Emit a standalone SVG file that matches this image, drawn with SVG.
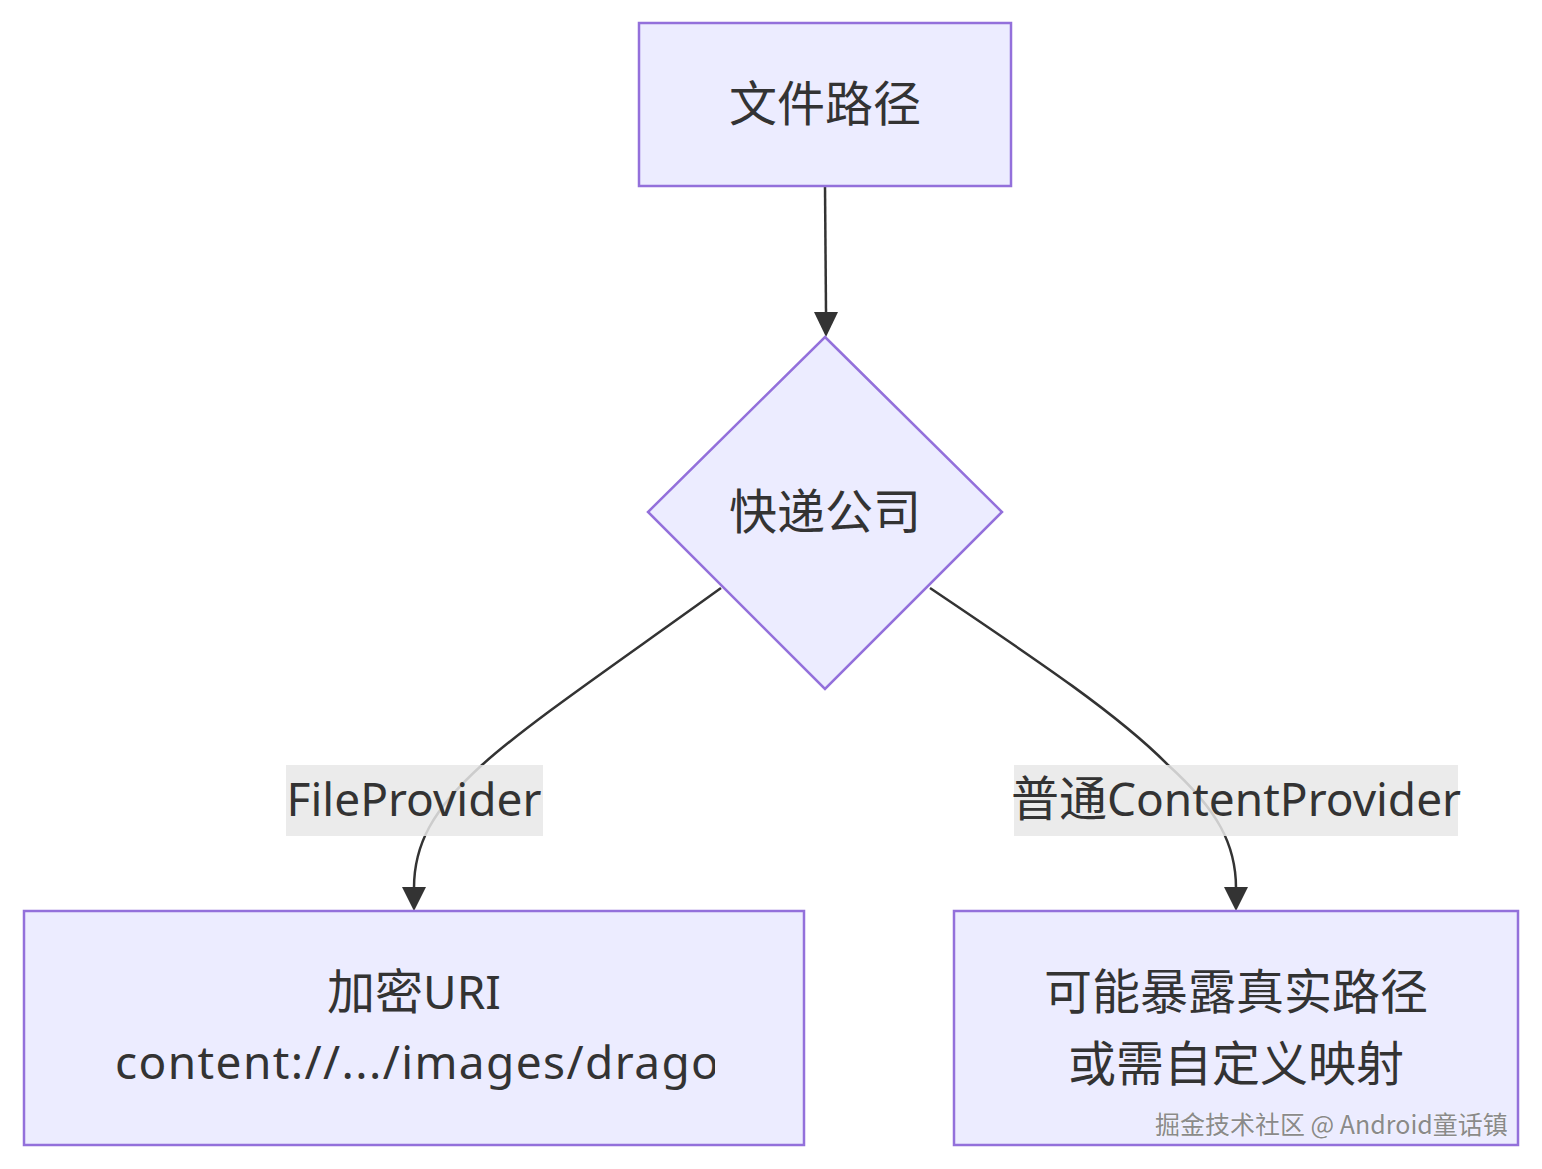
<svg xmlns="http://www.w3.org/2000/svg" width="1542" height="1169" viewBox="0 0 1542 1169">
<defs>
<style>
.node{fill:#ECECFF;stroke:#9370DB;stroke-width:2.5}
.lbl{font-family:"Noto Sans","Noto Sans CJK SC",sans-serif;font-size:46px;fill:#333;text-anchor:middle}
.cjk{font-size:48px}
.edge{fill:none;stroke:#333;stroke-width:2.5}
.elbg{fill:#e8e8e8;fill-opacity:0.85}
.wm{font-family:"Noto Sans CJK SC","Noto Sans",sans-serif;font-size:25px;fill:#8a8a8a;stroke:#fff;stroke-width:0.6;paint-order:stroke}
</style>
<clipPath id="clipA"><rect x="24" y="911" width="691" height="234"/></clipPath>
</defs>
<rect width="1542" height="1169" fill="#fff"/>
<g id="connectors">
<path class="edge" d="M825,186 L826,312" />
<path d="M814,312 L838,312 L826,337 z" fill="#333"/>
<path class="edge" d="M721,588 C610,668 530,722 482,765 C432,810 414,845 414,888"/>
<path d="M402,887 L426,887 L414,911 z" fill="#333"/>
<path class="edge" d="M930,588 C1040,662 1120,716 1168,765 C1218,810 1236,845 1236,888"/>
<path d="M1224,887 L1248,887 L1236,911 z" fill="#333"/>
</g>
<g id="label-fileprovider">
<rect class="elbg" x="286" y="765" width="257" height="71"/>
<text class="lbl" x="414" y="816">FileProvider</text>
</g>
<g id="label-content">
<rect class="elbg" x="1014" y="765" width="444" height="71"/>
<text class="lbl" x="1236" y="816"><tspan class="cjk">普通</tspan>ContentProvider</text>
</g>
<g id="node-path">
<rect class="node" x="639" y="23" width="372" height="163"/>
<text class="lbl cjk" x="825" y="121">文件路径</text>
</g>
<g id="node-courier">
<polygon class="node" points="825,337 1002,512 825,689 648,512"/>
<text class="lbl cjk" x="825" y="529">快递公司</text>
</g>
<g id="node-uri">
<rect class="node" x="24" y="911" width="780" height="234"/>
<text class="lbl" x="414" y="1009"><tspan class="cjk">加密</tspan>URI</text>
<text class="lbl" x="115" y="1079" clip-path="url(#clipA)" style="text-anchor:start;letter-spacing:1.4px">content://.../images/dragon.jpg</text>
</g>
<g id="node-expose">
<rect class="node" x="954" y="911" width="564" height="234"/>
<text class="lbl cjk" x="1236" y="1009">可能暴露真实路径</text>
<text class="lbl cjk" x="1236" y="1081">或需自定义映射</text>
</g>
<text class="wm" x="1155" y="1134">掘金技术社区 @ Android童话镇</text>
</svg>
